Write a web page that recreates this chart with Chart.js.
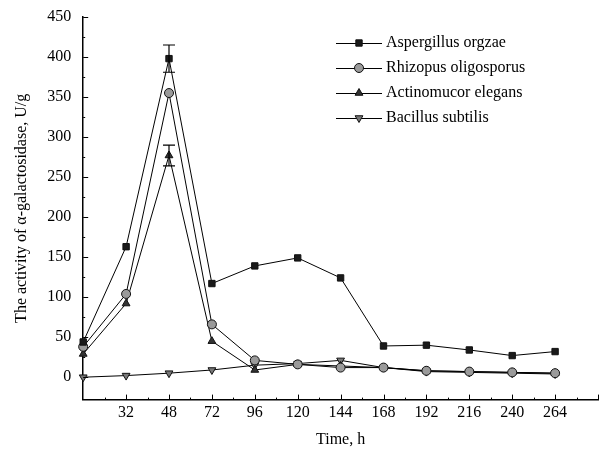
<!DOCTYPE html>
<html>
<head>
<meta charset="utf-8">
<script src="https://cdn.jsdelivr.net/npm/chart.js@4"></script>
<style>
  html, body { margin: 0; padding: 0; background: #fff; overflow: hidden; }
  #chart { display: block; margin-top: -3px; }
</style>
</head>
<body>
<canvas id="chart" width="604" height="453"></canvas>
<script>
// time points (first and last slots carry no label)
const timeLabels = ['', '32', '48', '72', '96', '120', '144', '168', '192', '216', '240', '264', ''];
const yTicks = [0, 50, 100, 150, 200, 250, 300, 350, 400, 450];

const aspergillus = [44, 163, 398, 117, 139, 149, 124, 39, 40, 34, 27, 32];
const rhizopus = [38, 104, 355, 66, 21, 16, 12, 12, 8, 7, 6, 5];
const actinomucor = [29, 92, 277, 45, 9, 16, 14, 12, 8, 7, 6, 5];
const bacillus = [0, 2, 5, 9, 15, 17, 21, 12, 7, 6, 5, 4];

const aspergillusErr = [0, 0, 17, 0, 0, 0, 0, 0, 0, 0, 0, 0];
const actinomucorErr = [0, 0, 13, 0, 0, 0, 0, 0, 0, 0, 0, 0];

const serif = '"Liberation Serif", "DejaVu Serif", serif';

function series(label, data, style, fill, rotation, err) {
    return {
        label: label,
        data: data,
        errors: err,
        borderColor: '#000',
        borderWidth: 1,
        pointStyle: style,
        pointRotation: rotation,
        pointRadius: 4.5,
        pointBackgroundColor: fill,
        pointBorderColor: '#111',
        pointBorderWidth: 1,
        tension: 0
    };
}

// inward tick marks on both axes
const axisTicks = {
    id: 'axisTicks',
    afterDraw(chart) {
        const ctx = chart.ctx;
        const x = chart.scales.x, y = chart.scales.y;
        const left = chart.chartArea.left, bottom = chart.chartArea.bottom;
        ctx.save();
        ctx.strokeStyle = '#000';
        ctx.lineWidth = 1;
        yTicks.forEach(v => {
            const py = Math.round(y.getPixelForValue(v)) + 0.5;
            ctx.beginPath(); ctx.moveTo(left, py); ctx.lineTo(left + 5, py); ctx.stroke();
            const pm = Math.round(y.getPixelForValue(v + 25)) + 0.5;
            if (v < 450) { ctx.beginPath(); ctx.moveTo(left, pm); ctx.lineTo(left + 2, pm); ctx.stroke(); }
        });
        for (let i = 1; i < timeLabels.length; i++) {
            const px = Math.round(x.getPixelForValue(i)) + 0.5;
            ctx.beginPath(); ctx.moveTo(px, bottom); ctx.lineTo(px, bottom - 5); ctx.stroke();
            const pm = Math.round((x.getPixelForValue(i) + x.getPixelForValue(i - 1)) / 2) + 0.5;
            ctx.beginPath(); ctx.moveTo(pm, bottom); ctx.lineTo(pm, bottom - 2); ctx.stroke();
        }
        ctx.restore();
    }
};

// error bars from the errors arrays
const errorBars = {
    id: 'errorBars',
    afterDatasetsDraw(chart) {
        const ctx = chart.ctx;
        const x = chart.scales.x, y = chart.scales.y;
        ctx.save();
        ctx.strokeStyle = '#000';
        ctx.lineWidth = 1.2;
        chart.data.datasets.forEach(ds => {
            if (!ds.errors) return;
            ds.errors.forEach((e, i) => {
                if (!e) return;
                const px = x.getPixelForValue(i);
                const top = y.getPixelForValue(ds.data[i] + e);
                const bot = y.getPixelForValue(ds.data[i] - e);
                ctx.beginPath();
                ctx.moveTo(px, top); ctx.lineTo(px, bot);
                ctx.moveTo(px - 6, top); ctx.lineTo(px + 6, top);
                ctx.moveTo(px - 6, bot); ctx.lineTo(px + 6, bot);
                ctx.stroke();
            });
        });
        ctx.restore();
    }
};

// legend with line-marker-line symbols
const lineLegend = {
    id: 'lineLegend',
    afterDraw(chart) {
        const ctx = chart.ctx;
        ctx.save();
        ctx.font = '16px ' + serif;
        ctx.textBaseline = 'middle';
        ctx.fillStyle = '#000';
        chart.data.datasets.forEach((ds, i) => {
            const yy = 46 + i * 25;
            ctx.strokeStyle = '#000';
            ctx.lineWidth = 1;
            ctx.beginPath(); ctx.moveTo(336, yy + 0.5); ctx.lineTo(382, yy + 0.5); ctx.stroke();
            ctx.fillStyle = ds.pointBackgroundColor;
            ctx.strokeStyle = ds.pointBorderColor;
            Chart.helpers.drawPoint(ctx, {pointStyle: ds.pointStyle, rotation: ds.pointRotation, radius: 4.5, borderWidth: 1}, 359, yy);
            ctx.fillStyle = '#000';
            ctx.fillText(ds.label, 386, yy);
        });
        ctx.restore();
    }
};

new Chart(document.getElementById('chart').getContext('2d'), {
    type: 'line',
    data: {
        labels: timeLabels,
        datasets: [
            series('Aspergillus orgzae', aspergillus, 'rect', '#1a1a1a', 0, aspergillusErr),
            series('Rhizopus oligosporus', rhizopus, 'circle', '#9a9a9a', 0, null),
            series('Actinomucor elegans', actinomucor, 'triangle', '#333', 0, actinomucorErr),
            series('Bacillus subtilis', bacillus, 'triangle', '#777', 180, null)
        ]
    },
    options: {
        responsive: false,
        animation: false,
        layout: { padding: { top: 1, right: 6, left: 8, bottom: 1 } },
        plugins: {
            legend: { display: false },
            tooltip: { enabled: false }
        },
        scales: {
            x: {
                offset: false,
                grid: { display: false, drawTicks: false },
                border: { display: true, color: '#000', width: 1.5 },
                ticks: { color: '#000', font: { family: serif, size: 16 }, padding: 4, maxRotation: 0, autoSkip: false },
                title: { display: true, text: 'Time, h', color: '#000', font: { family: serif, size: 16 }, padding: { top: 3, bottom: 0 } }
            },
            y: {
                min: -28,
                max: 450,
                afterBuildTicks: scale => { scale.ticks = yTicks.map(v => ({ value: v })); },
                grid: { display: false, drawTicks: false },
                border: { display: true, color: '#000', width: 1.5 },
                ticks: { color: '#000', font: { family: serif, size: 16, lineHeight: 1 }, padding: 12 },
                title: { display: true, text: 'The activity of α-galactosidase, U/g', color: '#000', font: { family: serif, size: 16 }, padding: { bottom: 4 } }
            }
        }
    },
    plugins: [axisTicks, errorBars, lineLegend]
});
</script>
</body>
</html>
